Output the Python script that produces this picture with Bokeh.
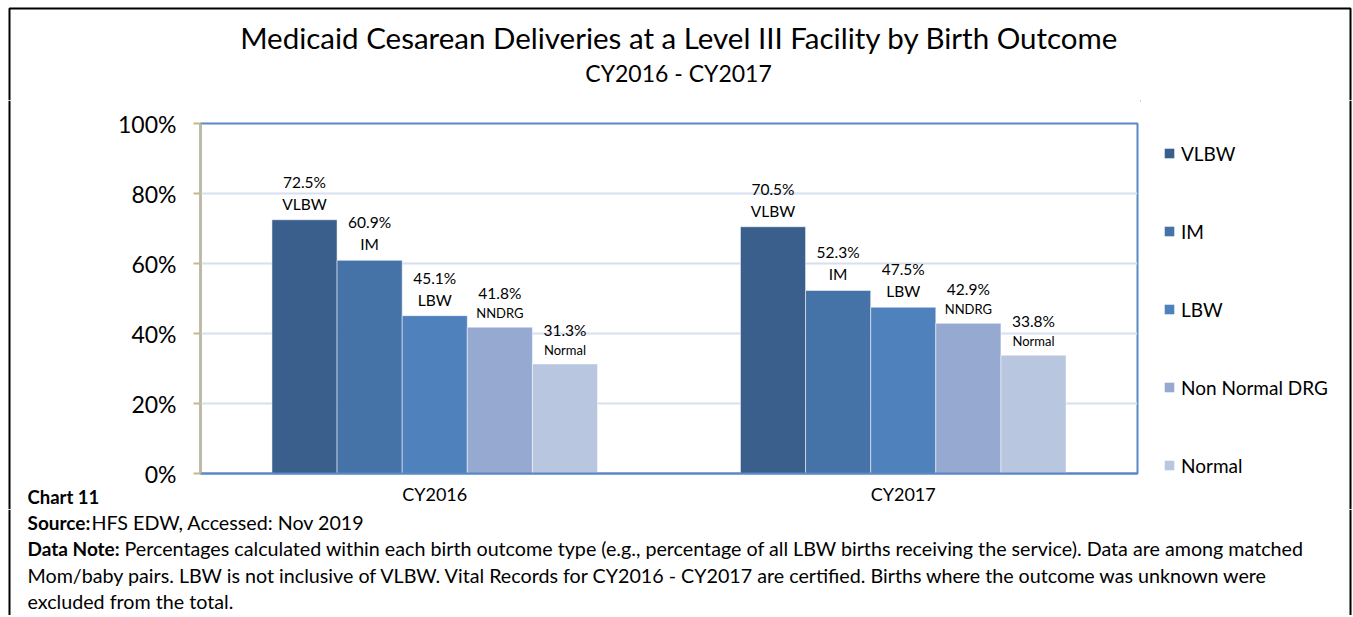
from bokeh.plotting import figure
from bokeh.layouts import column, row
from bokeh.models import (FactorRange, Range1d, Legend, LegendItem, Label, Span, BoxAnnotation,
                          PrintfTickFormatter, FixedTicker, ColumnDataSource)
from bokeh.transform import dodge
from bokeh.core.properties import value
from bokeh.embed import file_html
from bokeh.resources import INLINE

# ---- data ----
years = ["CY2016", "CY2017"]
outcomes = ["VLBW", "IM", "LBW", "Non Normal DRG", "Normal"]
short_names = ["VLBW", "IM", "LBW", "NNDRG", "Normal"]
vlbw = [72.5, 70.5]
im = [60.9, 52.3]
lbw = [45.1, 47.5]
nndrg = [41.8, 42.9]
normal = [31.3, 33.8]
y_ticks = [0, 20, 40, 60, 80, 100]

title_text = "Medicaid Cesarean Deliveries at a Level III Facility by Birth Outcome"
subtitle_text = "CY2016 - CY2017"
chart_id = "Chart 11"
source_bold = "Source:"
source_text = "HFS EDW, Accessed: Nov 2019"
note_bold = "Data Note:"
note_lines = [
    "Percentages calculated within each birth outcome type (e.g., percentage of all LBW births receiving the service). Data are among matched",
    "Mom/baby pairs. LBW is not inclusive of VLBW. Vital Records for CY2016 - CY2017 are certified. Births where the outcome was unknown were",
    "excluded from the total.",
]

series = [vlbw, im, lbw, nndrg, normal]
colors = ["#3B5F8D", "#4572A7", "#4F81BD", "#95A9D1", "#B9C6E0"]

FONT = "Lato"
BLUE = "#5A88C6"
TAN = "#C6B88E"

# ---- page geometry (pixels) ----
W = 1352
HEAD_H = 100
MID_TOP, MID_BOT = 100, 509
FOOT_H = 106
LEFT_W = 110
MAIN_R = 1140
FL, FT, FR, FB = 200, 123, 1137, 473   # plot frame on the page
MID_H = MID_BOT - MID_TOP
BORDER_L, BORDER_R, BORDER_T = 9, 1350, 8
NOTE_SIZE = "19.7px"
BOLD_SIZE = "19px"


def blank(width, height):
    f = figure(width=width, height=height, x_range=Range1d(0, width),
               y_range=Range1d(height, 0), x_axis_type=None, y_axis_type=None,
               output_backend="svg", toolbar_location=None,
               min_border=0, min_border_left=0, min_border_right=0,
               min_border_top=0, min_border_bottom=0)
    f.outline_line_color = None
    f.background_fill_color = "white"
    f.border_fill_color = "white"
    f.xgrid.visible = False
    f.ygrid.visible = False
    f.frame_align = False
    return f


def put(f, text, x, y, size, bold=False, align="left"):
    f.add_layout(Label(x=x, y=y, text=text, text_font=FONT, text_font_size=size,
                       text_font_style="bold" if bold else "normal",
                       text_align=align, text_baseline="middle", text_color="black"))


def vline(f, x):
    f.add_layout(Span(location=x, dimension="height", line_color="black",
                      line_alpha=1, line_width=2))


# ---- header ----
head = blank(W, HEAD_H)
put(head, title_text, 679, 37, "29.5px", align="center")
put(head, subtitle_text, 678, 72, "23px", align="center")
head.add_layout(BoxAnnotation(left=BORDER_L, right=BORDER_R, top=BORDER_T, bottom=HEAD_H + 50,
                              fill_alpha=0, line_color="black", line_alpha=1, line_width=2))

# ---- left strip ----
left = blank(LEFT_W, MID_H)
put(left, chart_id, 27, 496 - MID_TOP, "18.5px", bold=True)
vline(left, BORDER_L)

# ---- main chart ----
p = figure(x_range=FactorRange(*years), y_range=Range1d(0, 100),
           width=MAIN_R - LEFT_W, height=MID_H, output_backend="svg", toolbar_location=None,
           min_border_left=FL - LEFT_W, min_border_right=MAIN_R - FR,
           min_border_top=FT - MID_TOP, min_border_bottom=MID_BOT - FB)
p.frame_align = False
p.background_fill_color = "white"
p.border_fill_color = "white"
p.outline_line_color = BLUE
p.outline_line_width = 2

p.xgrid.grid_line_color = None
p.ygrid.ticker = FixedTicker(ticks=y_ticks)
p.ygrid.grid_line_color = "#D6E0EF"
p.ygrid.grid_line_width = 2

ya = p.yaxis[0]
ya.ticker = FixedTicker(ticks=y_ticks)
ya.formatter = PrintfTickFormatter(format="%d%%")
ya.axis_line_color = TAN
ya.axis_line_width = 2
ya.major_tick_line_color = TAN
ya.major_tick_line_width = 2
ya.major_tick_out = 7
ya.major_tick_in = 0
ya.minor_tick_line_color = None
ya.major_label_standoff = 17
ya.major_label_text_font = FONT
ya.major_label_text_font_size = "23px"
ya.major_label_text_color = "black"

xa = p.xaxis[0]
xa.axis_line_color = BLUE
xa.axis_line_width = 2
xa.major_tick_line_color = None
xa.minor_tick_line_color = None
xa.major_label_standoff = 3
xa.major_label_text_font = FONT
xa.major_label_text_font_size = "18px"
xa.major_label_text_color = "black"

w = 0.139
for i, (vals, c, sn) in enumerate(zip(series, colors, short_names)):
    src = ColumnDataSource(dict(year=years, v=vals,
                                lab=[f"{v:.1f}%" for v in vals],
                                nm=[sn] * len(vals)))
    off = (i - 2) * w
    p.vbar(x=dodge("year", off, range=p.x_range), top="v", width=w, source=src,
           fill_color=c, line_color="white", line_alpha=0.5, line_width=1)
    small = sn in ("NNDRG", "Normal")
    p.text(x=dodge("year", off, range=p.x_range), y="v", text="lab", source=src,
           text_align="center", text_baseline="middle",
           y_offset=-34 if small else -38,
           text_font=value(FONT), text_font_size="15.5px", text_color="black")
    p.text(x=dodge("year", off, range=p.x_range), y="v", text="nm", source=src,
           text_align="center", text_baseline="middle",
           y_offset=-14 if small else -16,
           text_font=value(FONT), text_font_size="13px" if small else "15.5px",
           text_color="black")

# ---- legend strip ----
LEG_W = W - MAIN_R
leg = blank(LEG_W, MID_H)
items = []
for o, c in zip(outcomes, colors):
    # swatch-only renderer placed outside the visible range
    r = leg.vbar(x=[-100], top=[1], width=1, fill_color=c, line_color=None)
    items.append(LegendItem(label=o, renderers=[r]))
legend = Legend(items=items, location=(1163 - MAIN_R, MID_BOT - (FT + 18) - 336),
                border_line_color=None, background_fill_alpha=0,
                glyph_width=12, glyph_height=12, label_height=24, spacing=54,
                padding=0, margin=0, label_standoff=6, ncols=1,
                label_text_font=FONT, label_text_font_size="19px", label_text_color="black")
leg.add_layout(legend)
vline(leg, BORDER_R - MAIN_R)

# ---- footer ----
foot = blank(W, FOOT_H)
put(foot, source_bold, 27, 522 - MID_BOT, BOLD_SIZE, bold=True)
put(foot, source_text, 91, 522 - MID_BOT, NOTE_SIZE)
put(foot, note_bold, 27, 548 - MID_BOT, BOLD_SIZE, bold=True)
put(foot, note_lines[0], 124, 548 - MID_BOT, NOTE_SIZE)
put(foot, note_lines[1], 27, 575 - MID_BOT, NOTE_SIZE)
put(foot, note_lines[2], 27, 601 - MID_BOT, NOTE_SIZE)
vline(foot, BORDER_L)
vline(foot, BORDER_R)

layout = column(head, row(left, p, leg), foot)
open("out.html", "w").write(file_html(layout, INLINE))
